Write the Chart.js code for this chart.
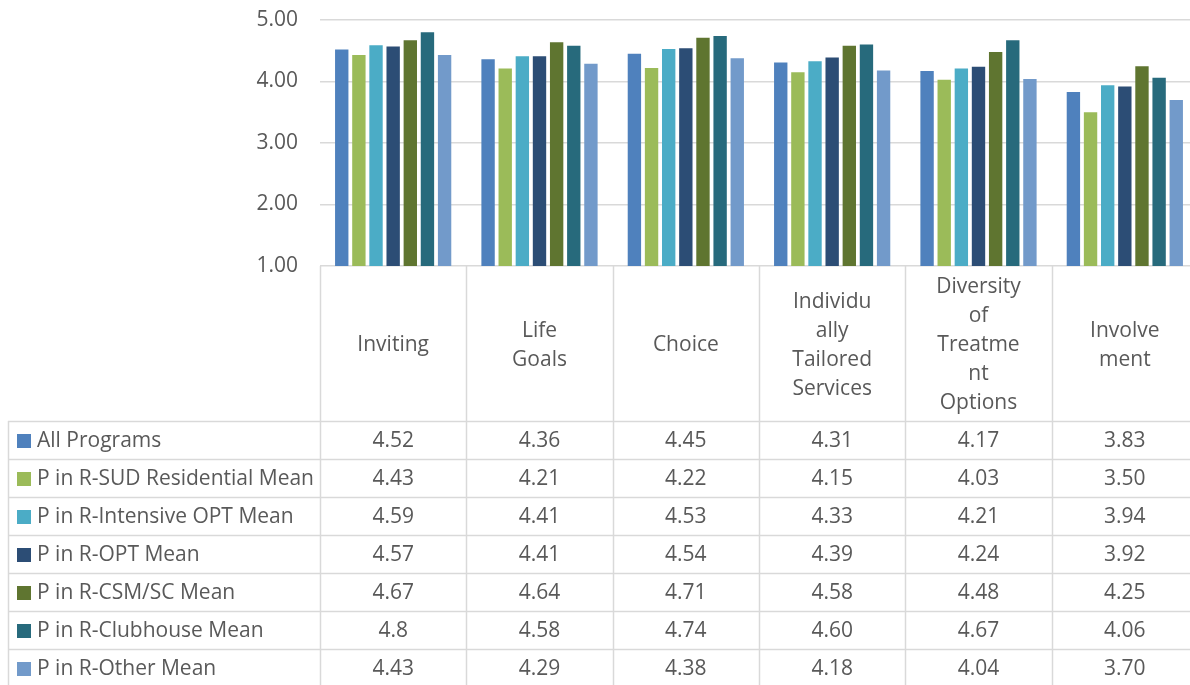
<!DOCTYPE html>
<html>
<head>
<meta charset="utf-8">
<script src="https://cdn.jsdelivr.net/npm/chart.js@4"></script>
<style>
  html, body { margin: 0; padding: 0; background: #fff; overflow: hidden; }
  #wrap { width: 1200px; height: 685px; position: relative; }
</style>
</head>
<body>
<div id="wrap"><canvas id="c"></canvas></div>
<script>
// Category names and how each one wraps inside its header cell
const categories = ['Inviting', 'Life Goals', 'Choice', 'Individually Tailored Services', 'Diversity of Treatment Options', 'Involvement'];
const categoryLines = [
  ['Inviting'],
  ['Life', 'Goals'],
  ['Choice'],
  ['Individu', 'ally', 'Tailored', 'Services'],
  ['Diversity', 'of', 'Treatme', 'nt', 'Options'],
  ['Involve', 'ment']
];

// Series means, kept as the strings shown in the data table
const allPrograms     = ['4.52', '4.36', '4.45', '4.31', '4.17', '3.83'];
const sudResidential  = ['4.43', '4.21', '4.22', '4.15', '4.03', '3.50'];
const intensiveOpt    = ['4.59', '4.41', '4.53', '4.33', '4.21', '3.94'];
const optMean         = ['4.57', '4.41', '4.54', '4.39', '4.24', '3.92'];
const csmScMean       = ['4.67', '4.64', '4.71', '4.58', '4.48', '4.25'];
const clubhouseMean   = ['4.8',  '4.58', '4.74', '4.60', '4.67', '4.06'];
const otherMean       = ['4.43', '4.29', '4.38', '4.18', '4.04', '3.70'];

const seriesNames = [
  'All Programs',
  'P in R-SUD Residential Mean',
  'P in R-Intensive OPT Mean',
  'P in R-OPT Mean',
  'P in R-CSM/SC Mean',
  'P in R-Clubhouse Mean',
  'P in R-Other Mean'
];
const seriesValues = [allPrograms, sudResidential, intensiveOpt, optMean, csmScMean, clubhouseMean, otherMean];
const seriesColors = ['#4f81bd', '#9bbb59', '#4bacc6', '#2c4d75', '#5f7530', '#276a7c', '#729aca'];

// Value axis range and tick step
const yMin = 1;
const yMax = 5;
const yStep = 1;

const FONT = '"Open Sans", Lato, sans-serif';
const TEXT = '#595959';
const LINE = '#d9d9d9';

// Layout of the data table under the plot
const HEADER_H = 155;
const ROW_H = 38;
const TABLE_LEFT = 8;

const dataTablePlugin = {
  id: 'dataTable',
  afterDraw(chart) {
    const ctx = chart.ctx;
    const x = chart.scales.x;
    const area = chart.chartArea;
    const n = categories.length;
    const colW = (x.right - x.left) / n;
    const top = area.bottom;
    const rowsTop = top + HEADER_H;
    const bottom = chart.height + 2;

    ctx.save();
    ctx.strokeStyle = LINE;
    ctx.lineWidth = 1.5;

    // column separators
    for (let k = 0; k <= n; k++) {
      const px = Math.round(x.left + k * colW) + 0.5;
      ctx.beginPath();
      ctx.moveTo(px, top);
      ctx.lineTo(px, bottom);
      ctx.stroke();
    }
    // left border of the series-name column
    ctx.beginPath();
    ctx.moveTo(TABLE_LEFT + 0.5, rowsTop);
    ctx.lineTo(TABLE_LEFT + 0.5, bottom);
    ctx.stroke();
    // row separators
    for (let r = 0; r <= seriesNames.length; r++) {
      const py = Math.round(rowsTop + r * ROW_H) + 0.5;
      ctx.beginPath();
      ctx.moveTo(TABLE_LEFT, py);
      ctx.lineTo(chart.width, py);
      ctx.stroke();
    }

    // header labels, vertically centred in the header cell
    ctx.fillStyle = TEXT;
    ctx.font = '21px ' + FONT;
    ctx.textAlign = 'center';
    ctx.textBaseline = 'middle';
    const lh = 29;
    categoryLines.forEach((lines, i) => {
      const cx = x.getPixelForValue(i);
      const cy = top + HEADER_H / 2 + 2;
      const start = cy - (lines.length - 1) * lh / 2;
      lines.forEach((t, j) => ctx.fillText(t, cx, start + j * lh));
    });

    // rows: legend key, series name and values
    seriesNames.forEach((name, r) => {
      const cy = rowsTop + r * ROW_H + ROW_H / 2 + 1;
      ctx.fillStyle = seriesColors[r];
      ctx.fillRect(17, cy - 7, 14, 14);
      ctx.fillStyle = TEXT;
      ctx.textAlign = 'left';
      ctx.fillText(name, 37, cy);
      ctx.textAlign = 'center';
      seriesValues[r].forEach((v, i) => {
        ctx.fillText(v, x.getPixelForValue(i), cy);
      });
    });
    ctx.restore();
  }
};

new Chart(document.getElementById('c'), {
  type: 'bar',
  data: {
    labels: categories,
    datasets: seriesNames.map((name, i) => ({
      label: name,
      data: seriesValues[i].map(Number),
      backgroundColor: seriesColors[i],
      categoryPercentage: 0.82,
      barPercentage: 0.78
    }))
  },
  options: {
    responsive: true,
    maintainAspectRatio: false,
    animation: false,
    layout: { padding: { top: 20, right: 2, bottom: 419, left: 0 } },
    plugins: { legend: { display: false }, tooltip: { enabled: false } },
    scales: {
      x: { display: false },
      y: {
        min: yMin,
        max: yMax,
        ticks: {
          stepSize: yStep,
          color: TEXT,
          padding: 2,
          font: { family: FONT, size: 21 },
          callback: v => Number(v).toFixed(2)
        },
        grid: { color: LINE, lineWidth: 1.5, drawTicks: true, tickLength: 20, tickColor: 'rgba(0,0,0,0)' },
        border: { display: false },
        afterFit(scale) { scale.width = 320; }
      }
    }
  },
  plugins: [dataTablePlugin]
});
</script>
</body>
</html>
